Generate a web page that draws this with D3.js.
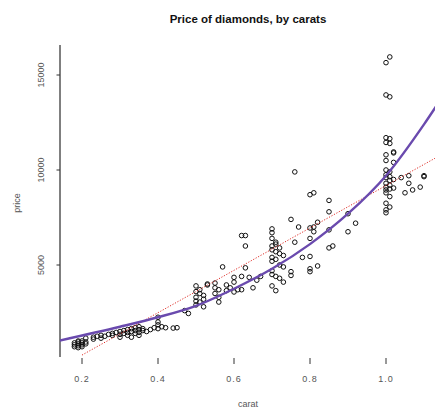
<!DOCTYPE html>
<html>
<head>
<meta charset="utf-8">
<script src="https://cdn.jsdelivr.net/npm/d3@7"></script>
<style>
  body { margin: 0; background: #fff; }
  text { font-family: "Liberation Sans", Arial, sans-serif; }
</style>
</head>
<body>
<script>
// Diamonds sample: carat and price
const carat = [
  0.18,0.18,0.19,0.19,0.19,0.19,0.20,0.20,0.20,0.20,0.21,0.21,0.18,0.19,
  0.21,0.23,0.23,0.24,0.25,0.25,0.26,
  0.27,0.28,0.28,0.29,0.30,0.30,0.30,0.31,
  0.31,0.32,0.32,0.32,0.33,0.33,0.33,0.34,0.34,0.34,0.35,0.35,0.35,0.35,0.36,0.36,
  0.37,0.38,0.39,0.40,0.40,0.40,0.40,0.41,0.42,0.44,0.45,
  0.47,0.48,
  0.50,0.50,0.50,0.51,0.51,0.50,0.52,0.52,0.53,0.53,0.51,0.50,0.52,
  0.55,0.55,0.56,0.56,0.56,0.55,
  0.57,0.58,0.58,0.59,0.60,0.60,0.60,
  0.61,0.62,0.62,0.63,0.62,0.63,0.64,0.65,0.66,0.63,
  0.67,
  0.70,0.70,0.70,0.71,0.71,0.70,0.72,0.70,0.71,0.72,0.73,0.70,0.71,0.70,0.72,0.73,0.70,0.70,0.71,0.72,0.73,0.70,0.71,
  0.75,0.75,0.75,0.76,0.76,0.77,0.78,0.80,0.80,0.80,0.80,0.80,0.81,0.80,0.81,0.81,0.82,0.82,
  0.85,0.85,0.85,0.85,0.86,0.90,0.90,0.92,
  1.00,1.01,1.00,1.01,1.00,1.01,1.00,1.01,1.00,1.02,1.02,1.00,1.02,1.00,1.01,1.00,1.00,1.01,1.00,1.01,1.00,1.01,1.02,1.00,1.00,1.01,1.00,1.01,1.00,1.00,1.01,1.02,
  1.04,1.06,1.10,1.06,1.07,1.09,1.05,1.10
];
const price = [
  800,900,750,850,950,1000,700,800,900,1000,850,950,700,650,
  1150,1200,1100,1250,1300,1150,1250,
  1350,1300,1400,1450,1350,1500,1200,1400,
  1550,1450,1600,1300,1500,1650,1200,1550,1700,1400,1600,1750,1300,1450,1550,1650,
  1500,1600,1700,1650,1850,2000,2250,1750,1700,1680,1700,
  2600,2450,
  2900,3100,3300,3500,3700,3900,3200,2800,3950,4000,3050,3600,3400,
  4050,3800,3700,3300,3050,3500,
  4900,3950,3650,3800,3580,4350,4100,
  3700,3700,6550,6000,4400,4850,4350,3800,4200,6550,
  4400,
  6900,6700,6400,6200,6100,6000,5900,5800,5700,5600,5500,5400,5300,5200,5000,4900,4700,4500,4400,4300,4100,3900,3650,
  7400,4650,4450,9900,6200,7000,5400,5450,6400,6950,4800,4650,8800,8700,7000,6750,7250,4950,
  8400,7800,6850,5900,6000,7700,6750,7200,
  15650,15950,13950,13850,11700,11650,11450,11400,10800,10900,10950,10500,10400,10000,9900,9750,9600,9450,9300,9200,9100,9000,9050,8950,8800,8600,8250,8050,7900,7750,9650,9500,
  9600,9700,9650,9300,8950,9100,8800,9700
];

// Smooth fitted curve (purple)
const fitCarat = [0.14, 0.3, 0.4, 0.5, 0.6, 0.7, 0.8, 0.9, 1.0, 1.1, 1.15];
const fitPrice = [1020, 1750, 2250, 2850, 3750, 4800, 6100, 7700, 9700, 12400, 13900];

// Straight-line fit (red dotted)
const lmIntercept = -1970;
const lmSlope = 11150;

const xTicks = [0.2, 0.4, 0.6, 0.8, 1.0];
const yTicks = [5000, 10000, 15000];

const width = 435, height = 414;

const x = d3.scaleLinear().domain([0.2, 1.0]).range([82, 386]);
const y = d3.scaleLinear().domain([0, 15000]).range([360, 75]);

const svg = d3.select('body').append('svg')
  .attr('width', width)
  .attr('height', height);

svg.append('defs').append('clipPath').attr('id', 'plot')
  .append('rect').attr('x', 60).attr('y', 30).attr('width', 375).attr('height', 330);

// Title
svg.append('text')
  .attr('x', 248).attr('y', 23)
  .attr('text-anchor', 'middle')
  .style('font-size', '11.5px')
  .style('font-weight', 'bold')
  .style('fill', '#111')
  .text('Price of diamonds, by carats');

// Y axis
svg.append('line')
  .attr('x1', 60).attr('x2', 60).attr('y1', 45).attr('y2', 357)
  .attr('stroke', '#000').attr('stroke-width', 1);

svg.selectAll('.ytick').data(yTicks).enter().append('line')
  .attr('x1', 56.5).attr('x2', 60)
  .attr('y1', d => y(d)).attr('y2', d => y(d))
  .attr('stroke', '#333');

svg.selectAll('.ylab').data(yTicks).enter().append('text')
  .attr('transform', d => `translate(44,${y(d)}) rotate(-90)`)
  .attr('text-anchor', 'middle')
  .style('font-size', '9px')
  .style('fill', '#555')
  .text(d => d);

svg.append('text')
  .attr('transform', 'translate(20,203) rotate(-90)')
  .attr('text-anchor', 'middle')
  .style('font-size', '9px')
  .style('fill', '#555')
  .text('price');

// X axis ticks (no axis line)
svg.selectAll('.xtick').data(xTicks).enter().append('line')
  .attr('x1', d => x(d)).attr('x2', d => x(d))
  .attr('y1', 358).attr('y2', 364)
  .attr('stroke', '#333');

svg.selectAll('.xlab').data(xTicks).enter().append('text')
  .attr('x', d => x(d)).attr('y', 382)
  .attr('text-anchor', 'middle')
  .style('font-size', '9px')
  .style('letter-spacing', '1px')
  .style('fill', '#555')
  .text(d => d.toFixed(1));

svg.append('text')
  .attr('x', 248).attr('y', 407)
  .attr('text-anchor', 'middle')
  .style('font-size', '9px')
  .style('fill', '#555')
  .text('carat');

const plot = svg.append('g').attr('clip-path', 'url(#plot)');

// Points
plot.selectAll('circle').data(carat).enter().append('circle')
  .attr('cx', d => x(d))
  .attr('cy', (d, i) => y(price[i]))
  .attr('r', 2.3)
  .attr('fill', 'none')
  .attr('stroke', '#111')
  .attr('stroke-width', 1);

// Red dotted linear fit
const lmX = [0.2, 1.15];
plot.append('path')
  .datum(lmX)
  .attr('d', d3.line().x(d => x(d)).y(d => y(lmIntercept + lmSlope * d)))
  .attr('fill', 'none')
  .attr('stroke', '#e0302a')
  .attr('stroke-width', 1)
  .attr('stroke-dasharray', '1.2,1.6');

// Purple smooth curve
plot.append('path')
  .datum(d3.zip(fitCarat, fitPrice))
  .attr('d', d3.line().x(d => x(d[0])).y(d => y(d[1])).curve(d3.curveMonotoneX))
  .attr('fill', 'none')
  .attr('stroke', '#6a4aae')
  .attr('stroke-width', 2.4);
</script>
</body>
</html>
